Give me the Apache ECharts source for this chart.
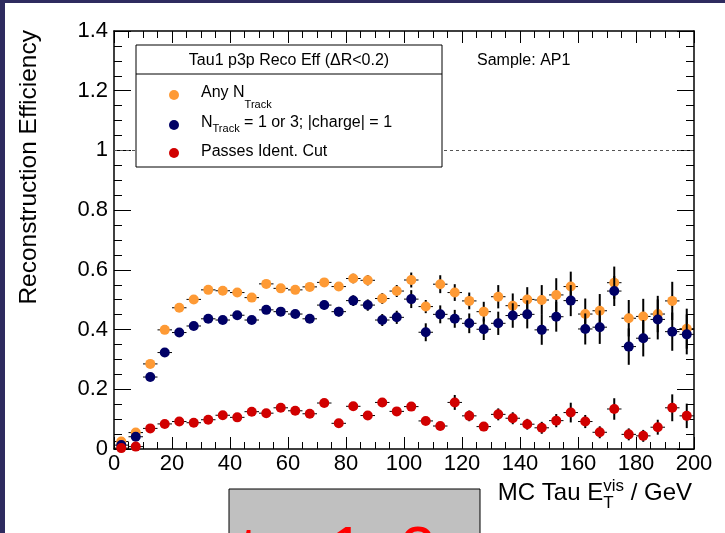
<!DOCTYPE html>
<html>
<head>
<meta charset="utf-8">
<script src="https://cdn.jsdelivr.net/npm/echarts@6/dist/echarts.min.js"></script>
<style>
html,body{margin:0;padding:0;background:#fff;}
#chart{width:725px;height:533px;}
</style>
</head>
<body>
<div id="chart"></div>
<script>
// ---- data ----
const binCenters = [2.5,7.5,12.5,17.5,22.5,27.5,32.5,37.5,42.5,47.5,52.5,57.5,62.5,67.5,72.5,77.5,82.5,87.5,92.5,97.5,
  102.5,107.5,112.5,117.5,122.5,127.5,132.5,137.5,142.5,147.5,152.5,157.5,162.5,167.5,172.5,177.5,182.5,187.5,192.5,197.5];
const binHalfWidth = 2.5;
const anyTrack = [0.025,0.055,0.285,0.399,0.473,0.501,0.533,0.530,0.524,0.507,0.553,0.538,0.533,0.543,0.558,0.544,0.571,0.565,0.504,0.529,
  0.566,0.477,0.552,0.524,0.496,0.460,0.510,0.480,0.501,0.499,0.516,0.544,0.452,0.463,0.557,0.438,0.444,0.452,0.496,0.403];
const anyTrackErr = [0.010,0.010,0.008,0.008,0.008,0.008,0.008,0.009,0.009,0.010,0.010,0.011,0.012,0.012,0.013,0.014,0.016,0.017,0.018,0.020,
  0.025,0.022,0.030,0.028,0.028,0.033,0.039,0.041,0.041,0.050,0.056,0.050,0.052,0.056,0.054,0.061,0.059,0.061,0.064,0.067];
const nTrack13 = [0.013,0.041,0.241,0.323,0.390,0.412,0.436,0.432,0.448,0.432,0.466,0.460,0.452,0.436,0.482,0.460,0.497,0.482,0.432,0.441,
  0.502,0.391,0.451,0.436,0.421,0.401,0.421,0.447,0.451,0.399,0.443,0.497,0.402,0.408,0.529,0.343,0.371,0.434,0.393,0.384];
const nTrack13Err = [0.010,0.010,0.008,0.008,0.009,0.009,0.010,0.010,0.010,0.011,0.012,0.012,0.013,0.014,0.015,0.016,0.018,0.019,0.020,0.022,
  0.030,0.030,0.030,0.030,0.033,0.036,0.039,0.041,0.047,0.050,0.050,0.052,0.052,0.056,0.050,0.061,0.061,0.067,0.064,0.067];
const passesIdent = [0.003,0.008,0.069,0.084,0.092,0.088,0.098,0.113,0.106,0.125,0.120,0.138,0.128,0.118,0.154,0.086,0.143,0.112,0.156,0.126,
  0.142,0.094,0.077,0.156,0.111,0.075,0.116,0.103,0.083,0.071,0.095,0.122,0.092,0.056,0.134,0.049,0.044,0.073,0.138,0.111];
const passesIdentErr = [0.003,0.005,0.005,0.006,0.006,0.006,0.007,0.007,0.008,0.008,0.009,0.009,0.010,0.010,0.011,0.012,0.012,0.012,0.013,0.013,
  0.013,0.012,0.012,0.025,0.018,0.015,0.020,0.020,0.018,0.020,0.022,0.033,0.022,0.020,0.036,0.020,0.020,0.025,0.045,0.041];

const xTicks = {min:0, max:200, interval:20};
const yTicks = {min:0, max:1.4, interval:0.2};

const legendTitle = 'Tau1 p3p Reco Eff (\u0394R<0.2)';
const sampleText = 'Sample: AP1';
const yTitle = 'Reconstruction Efficiency';
const stampText = 'tau1p3p';

// ---- styling ----
const FF = '"Liberation Sans", Arial, Helvetica, sans-serif';
const C_OR = '#fe9a35', C_NV = '#000066', C_RD = '#d10000';
const ctx = document.createElement('canvas').getContext('2d');
function tw(t, size){ ctx.font = size + 'px ' + FF; return ctx.measureText(t).width; }

function errRender(params, api){
  const x = api.value(0), y = api.value(1), e = api.value(2);
  const t = api.coord([x, y + e]), b = api.coord([x, y - e]);
  const l = api.coord([x - binHalfWidth, y]), r = api.coord([x + binHalfWidth, y]);
  return {type:'group', children:[
    {type:'line', shape:{x1:t[0], y1:t[1], x2:b[0], y2:b[1]}, style:{stroke:'#000', lineWidth:2}},
    {type:'line', shape:{x1:l[0], y1:l[1], x2:r[0], y2:r[1]}, style:{stroke:'#000', lineWidth:1}}
  ]};
}
function mk(vals, errs, color, z, extra){
  const errSeries = {type:'custom', renderItem:errRender, z:z, clip:false, silent:true,
    data: binCenters.map((c,i)=>[c, vals[i], errs[i]])};
  const pts = Object.assign({type:'scatter', z:z+1, clip:false, symbol:'circle', symbolSize:10,
    itemStyle:{color:color, opacity:1}, silent:true,
    data: binCenters.map((c,i)=>[c, vals[i]])}, extra || {});
  return [errSeries, pts];
}

const axisCommonX = (pos, showLabel) => ({
  type:'value', position:pos, min:xTicks.min, max:xTicks.max, interval:xTicks.interval,
  axisLine:{show:true, onZero:false, lineStyle:{color:'#000', width:1.5}},
  axisTick:{show:true, inside:true, length:12, lineStyle:{color:'#000', width:1}},
  minorTick:{show:true, splitNumber:4, length:7, lineStyle:{color:'#000', width:1}},
  axisLabel:{show:showLabel, fontSize:22, color:'#000', margin:4, fontFamily:FF},
  splitLine:{show:false}, minorSplitLine:{show:false}
});
const axisCommonY = (pos, showLabel) => ({
  type:'value', position:pos, min:yTicks.min, max:yTicks.max, interval:yTicks.interval,
  axisLine:{show:true, onZero:false, lineStyle:{color:'#000', width:1.5}},
  axisTick:{show:true, inside:true, length:17, lineStyle:{color:'#000', width:1}},
  minorTick:{show:true, splitNumber:4, length:8, lineStyle:{color:'#000', width:1}},
  axisLabel:{show:showLabel, fontSize:22, color:'#000', margin:6, fontFamily:FF},
  splitLine:{show:false}, minorSplitLine:{show:false}
});

// legend + annotations
const LX = 201, subSize = 11, LS = 16;
const g = [];
g.push({type:'rect', z:100, shape:{x:0,y:0,width:725,height:3}, style:{fill:'#2e2b5f'}});
g.push({type:'rect', z:100, shape:{x:0,y:0,width:5,height:533}, style:{fill:'#2e2b5f'}});
g.push({type:'rect', z:100, shape:{x:136,y:45,width:306,height:122}, style:{fill:'#fff', stroke:'#000', lineWidth:1}});
g.push({type:'line', z:101, shape:{x1:136,y1:74,x2:442,y2:74}, style:{stroke:'#000', lineWidth:1}});
g.push({type:'text', z:101, x:289, y:61, style:{text:legendTitle, font:LS+'px '+FF, fill:'#000', align:'center', verticalAlign:'middle'}});
[[95,C_OR],[125,C_NV],[153,C_RD]].forEach(([cy,c])=>g.push({type:'circle', z:101, shape:{cx:174,cy:cy,r:5}, style:{fill:c}}));
// entry 1
g.push({type:'text', z:101, x:LX, y:93, style:{text:'Any N', font:LS+'px '+FF, fill:'#000', verticalAlign:'middle'}});
g.push({type:'text', z:101, x:LX+tw('Any N',LS), y:105, style:{text:'Track', font:subSize+'px '+FF, fill:'#000', verticalAlign:'middle'}});
// entry 2
g.push({type:'text', z:101, x:LX, y:123, style:{text:'N', font:LS+'px '+FF, fill:'#000', verticalAlign:'middle'}});
g.push({type:'text', z:101, x:LX+tw('N',LS), y:129, style:{text:'Track', font:subSize+'px '+FF, fill:'#000', verticalAlign:'middle'}});
g.push({type:'text', z:101, x:LX+tw('N',LS)+tw('Track',subSize), y:123, style:{text:' = 1 or 3; |charge| = 1', font:LS+'px '+FF, fill:'#000', verticalAlign:'middle'}});
// entry 3
g.push({type:'text', z:101, x:LX, y:152, style:{text:'Passes Ident. Cut', font:LS+'px '+FF, fill:'#000', verticalAlign:'middle'}});
// sample
g.push({type:'text', z:101, x:477, y:61, style:{text:sampleText, font:'16px '+FF, fill:'#000', verticalAlign:'middle'}});
// y title
g.push({type:'text', z:101, x:29, y:30, rotation:Math.PI/2, style:{text:yTitle, font:'24.5px '+FF, fill:'#000', align:'right', verticalAlign:'middle'}});
// x title
(function(){
  const TS = 24, SS = 17;
  const a = 'MC Tau E', c = ' / GeV';
  const wa = tw(a,TS), wsup = Math.max(tw('vis',SS), tw('T',SS)), wc = tw(c,TS);
  const x0 = 692 - (wa + wsup + wc);
  g.push({type:'text', z:101, x:x0, y:493, style:{text:a, font:TS+'px '+FF, fill:'#000', verticalAlign:'middle'}});
  g.push({type:'text', z:101, x:x0+wa, y:486, style:{text:'vis', font:SS+'px '+FF, fill:'#000', verticalAlign:'middle'}});
  g.push({type:'text', z:101, x:x0+wa, y:503, style:{text:'T', font:SS+'px '+FF, fill:'#000', verticalAlign:'middle'}});
  g.push({type:'text', z:101, x:x0+wa+wsup, y:493, style:{text:c, font:TS+'px '+FF, fill:'#000', verticalAlign:'middle'}});
})();
// stamp box
g.push({type:'rect', z:100, shape:{x:229,y:489,width:251,height:60}, style:{fill:'#c0c0c0', stroke:'#000', lineWidth:1}});
g.push({type:'text', z:101, x:240, y:554, style:{text:stampText, font:'64px '+FF, fill:'#ff0000', verticalAlign:'middle'}});

const chart = echarts.init(document.getElementById('chart'), null, {renderer:'canvas'});
chart.setOption({
  animation:false,
  backgroundColor:'#fff',
  grid:{left:114, right:31, top:31, bottom:84, containLabel:false, outerBoundsMode:'none'},
  xAxis:[axisCommonX('bottom', true), axisCommonX('top', false)],
  yAxis:[axisCommonY('left', true), axisCommonY('right', false)],
  series:[
    ...mk(anyTrack, anyTrackErr, C_OR, 2, {markLine:{silent:true, symbol:['none','none'], label:{show:false},
      lineStyle:{type:[3,3], color:'#555', width:1}, data:[{yAxis:1}]}}),
    ...mk(nTrack13, nTrack13Err, C_NV, 4),
    ...mk(passesIdent, passesIdentErr, C_RD, 6)
  ],
  graphic:g
});
</script>
</body>
</html>
